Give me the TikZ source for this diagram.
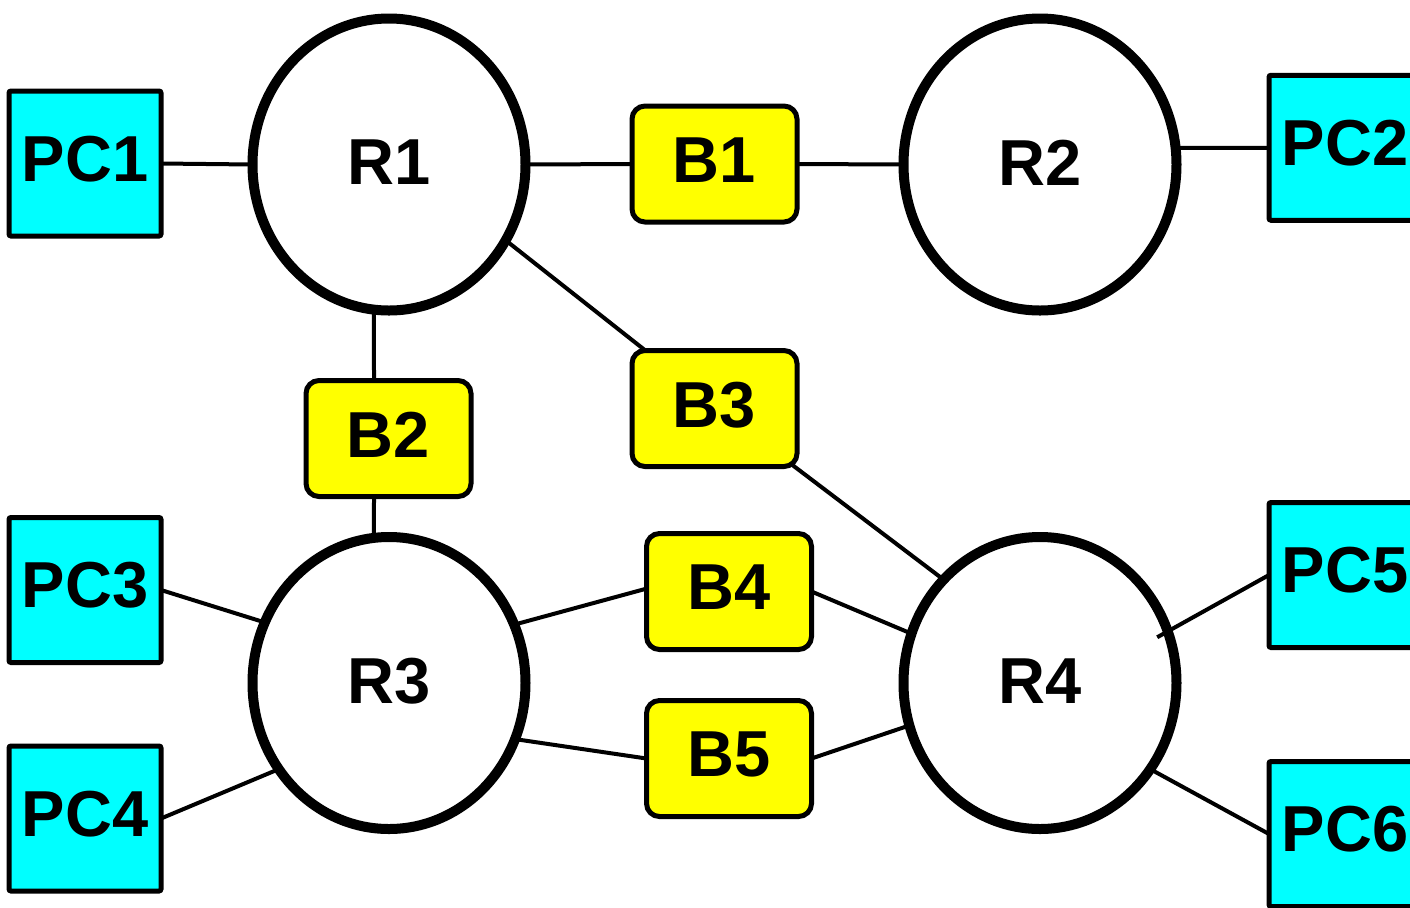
\documentclass[tikz,border=0pt]{standalone}
\usepackage{fontspec}
\setmainfont{Liberation Sans}
\usetikzlibrary{shapes.geometric,backgrounds}
\definecolor{pccyan}{RGB}{0,255,255}
\definecolor{boxyellow}{RGB}{255,255,0}
\begin{document}
\begin{tikzpicture}[x=0.5pt,y=-0.5pt,
  lbl/.style={font=\fontsize{32.5}{39}\selectfont\bfseries},
  router/.style={ellipse,draw,line width=5pt,fill=white,minimum width=136.5pt,minimum height=146pt,inner sep=0pt,outer sep=0pt,lbl,text depth=2pt},
  pcbox/.style={rectangle,draw,line width=2.5pt,fill=pccyan,rounded corners=1pt,minimum width=76pt,minimum height=72.5pt,inner sep=0pt,outer sep=0pt,lbl,text depth=5pt},
  bridge/.style={rectangle,draw,line width=2.5pt,fill=boxyellow,rounded corners=6.5pt,minimum width=82.5pt,minimum height=58pt,inner sep=0pt,outer sep=0pt,lbl,text depth=4pt},
  conn/.style={line width=2pt,shorten <=-5pt,shorten >=-5pt},
  stub/.style={line width=2pt,shorten <=-6pt}]
\useasboundingbox (0,0) rectangle (1410,907);
\clip (0,0) rectangle (1410,907);
% routers
\node[router] (R1) at (389,164.5) {R1};
\node[router] (R2) at (1040,164.5) {R2};
\node[router] (R3) at (389,683) {R3};
\node[router] (R4) at (1040,683) {R4};
% bridges
\node[bridge] (B1) at (714.5,164) {B1};
\node[bridge] (B2) at (388.5,438.5) {B2};
\node[bridge] (B3) at (714.5,408.5) {B3};
\node[bridge] (B4) at (729,591.5) {B4};
\node[bridge] (B5) at (729,758.5) {B5};
% PCs
\node[pcbox] (PC1) at (85,163.5) {PC1};
\node[pcbox] (PC2) at (1345,147.75) {PC2};
\node[pcbox] (PC3) at (85,590) {PC3};
\node[pcbox] (PC4) at (85,818.5) {PC4};
\node[pcbox] (PC5) at (1345,575) {PC5};
\node[pcbox] (PC6) at (1345,834) {PC6};
% connectors
\begin{pgfonlayer}{background}
\draw[conn] (PC1.east) -- (R1.180);
\draw[conn] (R1.0) -- (B1.west);
\draw[conn] (B1.east) -- (R2.180);
\draw[conn] (R2.7) -- (PC2.west);
\draw[conn] (R1.264) -- (B2.104);
\draw[conn] (B2.256) -- (R3.96);
\draw[conn] (R1.-33.8) -- (B3.140.4);
\draw[conn] (B3.-36.2) -- (R4.133.7);
\draw[conn] (PC3.east) -- (R3.154.6);
\draw[conn] (PC4.east) -- (R3.218.4);
\draw[conn] (R3.25.7) -- (B4.178.5);
\draw[conn] (B4.east) -- (R4.159.2);
\draw[conn] (R3.-24.5) -- (B5.west);
\draw[conn] (B5.east) -- (R4.198.9);
\draw[conn] (R4.-38.1) -- (PC6.west);
\end{pgfonlayer}
\draw[stub] (R4.22.3) -- (PC5.west);
\end{tikzpicture}
\end{document}
